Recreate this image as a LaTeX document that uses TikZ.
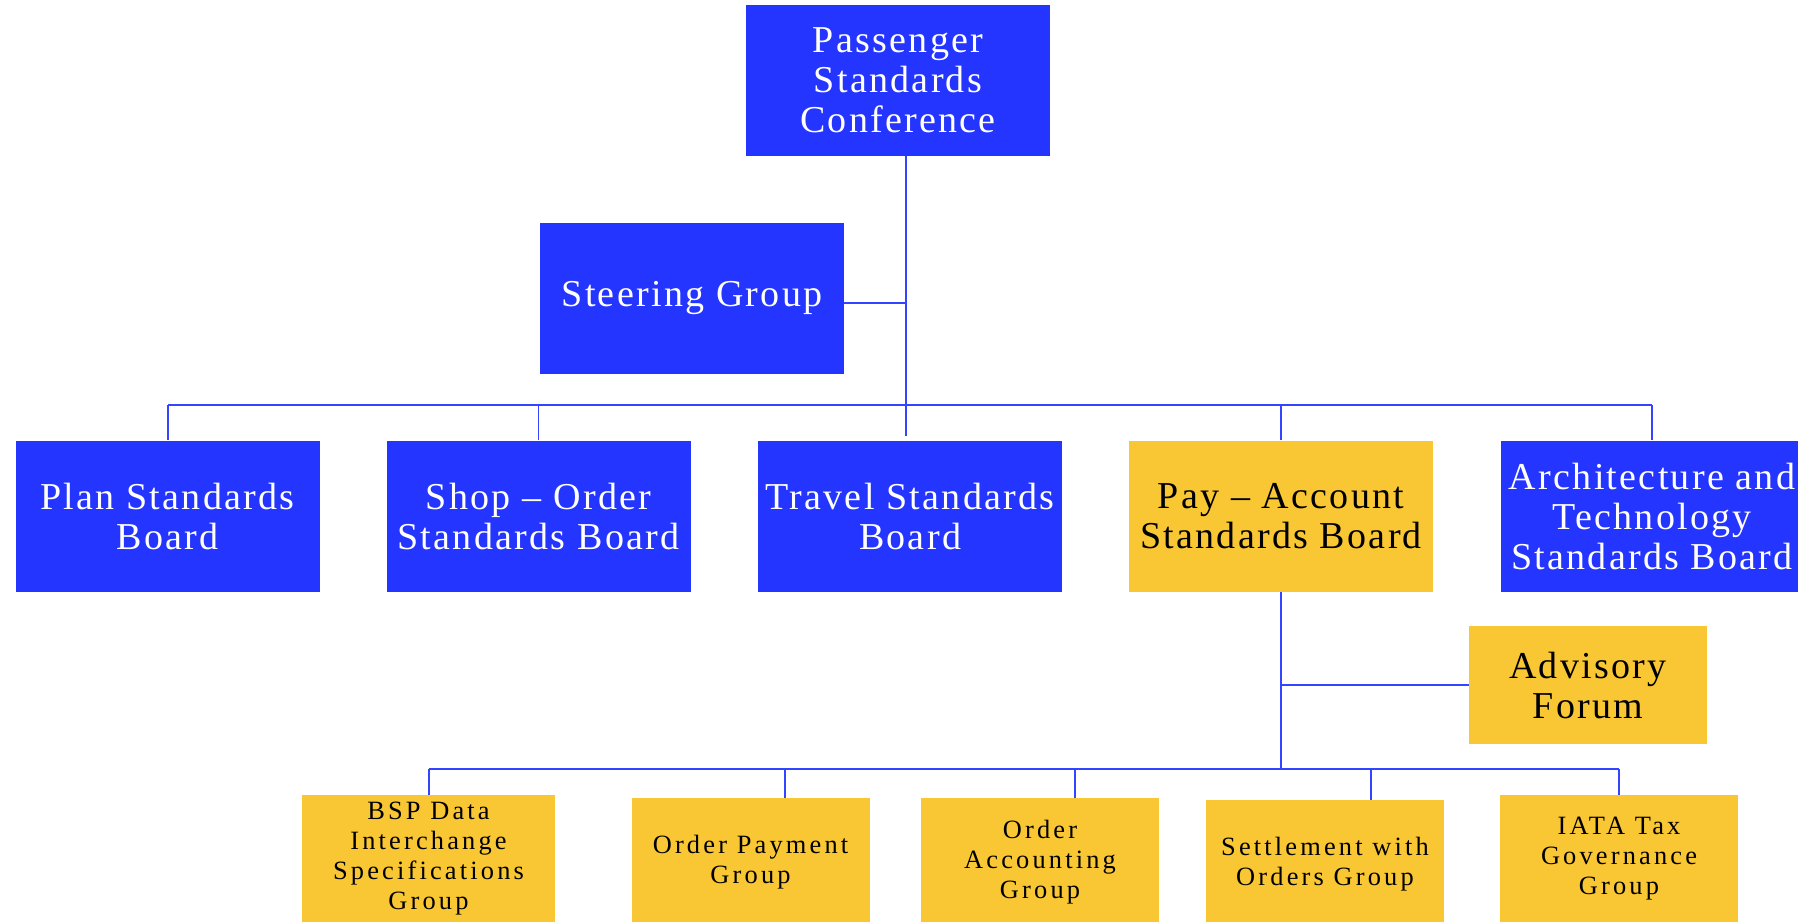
\documentclass[tikz,border=0pt]{standalone}
\usepackage{fontspec}
\setmainfont{Liberation Serif}

\definecolor{iatablue}{HTML}{2335FF}
\definecolor{iatagold}{HTML}{F9C733}
\definecolor{linkblue}{HTML}{3345FF}

\newcommand{\bigtext}{\fontsize{19}{20}\selectfont\addfontfeatures{LetterSpace=6}}
\newcommand{\smalltext}{\fontsize{13.2}{15}\selectfont\addfontfeatures{LetterSpace=12}}

\begin{document}
\begin{tikzpicture}[%
        x = 0.5pt, y = -0.5pt,
        board/.style = {inner sep=0pt, align=center, minimum width=152pt,
            minimum height=75.5pt, font=\bigtext},
        blueboard/.style = {board, fill=iatablue, text=white},
        goldboard/.style = {board, fill=iatagold, text=black},
        group/.style = {inner sep=0pt, align=center, fill=iatagold,
            minimum width=119pt, minimum height=64pt, font=\smalltext},
        link/.style = {draw=linkblue, line width=0.75pt}
    ]
      \useasboundingbox (0,0) rectangle (1798,921);

      % conference and steering group
      \node[blueboard] (conf) at (898,80.5) {Passenger\\Standards\\Conference};
      \node[blueboard] (steer) at (692,298.5) {Steering Group};

      % standards boards
      \node[blueboard] (plan) at (167.5,516) {Plan Standards\\Board};
      \node[blueboard] (shop) at (538.5,516) {Shop – Order\\Standards Board};
      \node[blueboard] (travel) at (910,516) {Travel Standards\\Board};
      \node[goldboard] (pay) at (1281,516) {Pay – Account\\Standards Board};
      \node[blueboard, minimum width=151pt] (arch) at (1652,516)
        {Architecture and\\Technology\\Standards Board};
      \node[goldboard, minimum width=119pt, minimum height=59pt] (forum)
        at (1588,685) {Advisory\\Forum};

      % groups under pay - account
      \node[group, minimum width=126.5pt] (bsp) at (428.5,859)
        {BSP Data\\Interchange\\Specifications\\Group};
      \node[group] (opg) at (750.5,862) {Order Payment\\Group};
      \node[group] (oag) at (1040,862) {Order\\Accounting\\Group};
      \node[group] (swo) at (1325,864) {Settlement with\\Orders Group};
      \node[group] (tax) at (1619,859) {IATA Tax\\Governance\\Group};

      % top connectors
      \coordinate (trunk) at (906,436);
      \coordinate (steerjoin) at (906,303);
      \coordinate (busl) at (168,405);
      \coordinate (busr) at (1652,405);
      \draw[link] (conf.south -| trunk) -- (trunk);
      \draw[link] (steer.east |- steerjoin) -- (steerjoin);
      \draw[link] (busl) -- (busr);
      \draw[link] (busl) -- (busl |- plan.north);
      \draw[link] (shop.north |- busl) -- (shop.north);
      \draw[link] (pay.north |- busl) -- (pay.north);
      \draw[link] (busr) -- (busr |- arch.north);

      % pay - account connectors
      \coordinate (subl) at (429,769);
      \coordinate (subr) at (1619,769);
      \draw[link] (pay.south) -- (pay.south |- subl);
      \draw[link] (forum.west) -- (forum.west -| pay.south);
      \draw[link] (subl) -- (subr);
      \coordinate (opgdrop) at (785,769);
      \coordinate (oagdrop) at (1075,769);
      \coordinate (swodrop) at (1371,769);
      \draw[link] (subl) -- (subl |- bsp.north);
      \draw[link] (opgdrop) -- (opgdrop |- opg.north);
      \draw[link] (oagdrop) -- (oagdrop |- oag.north);
      \draw[link] (swodrop) -- (swodrop |- swo.north);
      \draw[link] (subr) -- (subr |- tax.north);
    \end{tikzpicture}
\end{document}
